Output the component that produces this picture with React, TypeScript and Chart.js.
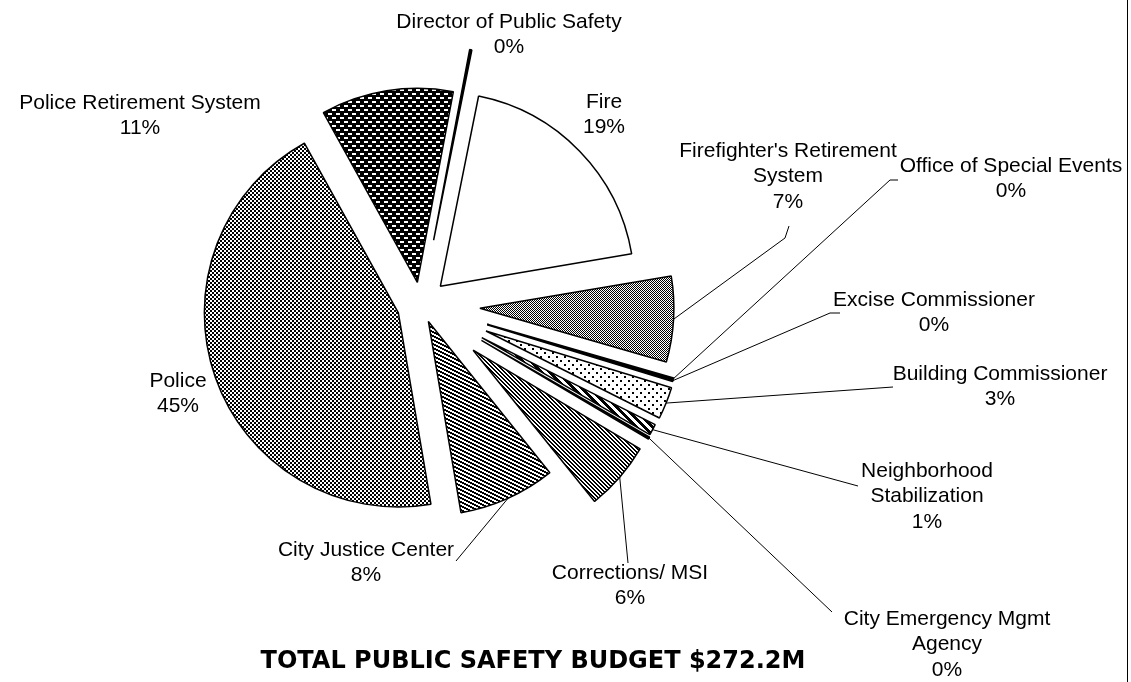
import React, { useEffect, useRef } from "react";
import { Chart, registerables } from "chart.js";

Chart.register(...registerables);

// ---------- data ----------
const categories = [
  "Director of Public Safety",
  "Fire",
  "Firefighter's Retirement System",
  "Office of Special Events",
  "Excise Commissioner",
  "Building Commissioner",
  "Neighborhood Stabilization",
  "City Emergency Mgmt Agency",
  "Corrections/ MSI",
  "City Justice Center",
  "Police",
  "Police Retirement System",
];

// budget in $ millions
const budgetMillions = [0.5, 52.2, 19.4, 0.3, 0.4, 7.3, 2.5, 0.5, 15.6, 22.0, 121.5, 30.0];

const labelLines = [
  ["Director of Public Safety"],
  ["Fire"],
  ["Firefighter's Retirement", "System"],
  ["Office of Special Events"],
  ["Excise Commissioner"],
  ["Building Commissioner"],
  ["Neighborhood", "Stabilization"],
  ["City Emergency Mgmt", "Agency"],
  ["Corrections/ MSI"],
  ["City Justice Center"],
  ["Police"],
  ["Police Retirement System"],
];

const chartTitle = "TOTAL PUBLIC SAFETY BUDGET $272.2M";

// ---------- layout / style ----------
const W = 1131;
const H = 682;
const explodePx = [66, 27, 59, 69, 69, 70, 69, 70, 69, 18, 24, 23];
// label anchor: [centerX, firstLineY]
const labelPos: [number, number][] = [
  [509, 22],
  [604, 102],
  [788, 151],
  [1011, 166],
  [934, 300],
  [1000, 374],
  [927, 471],
  [947, 619],
  [630, 573],
  [366, 550],
  [178, 381],
  [140, 103],
];
// leader line points (from slice outward toward the label); null = no leader
const leaderPts: ([number, number][] | null)[] = [
  null,
  null,
  [[785, 238], [789, 226]],
  [[890, 180], [898, 180]],
  [[830, 313], [840, 313]],
  [[893, 387]],
  [[858, 486]],
  [[832, 612]],
  [[628, 563]],
  [[456, 561]],
  null,
  null,
];
const LINE_H = 25.5;

function mkPattern(w: number, h: number, bg: string, fg: string, fn: (x: number, y: number) => boolean) {
  const c = document.createElement("canvas");
  c.width = w;
  c.height = h;
  const g = c.getContext("2d")!;
  g.fillStyle = bg;
  g.fillRect(0, 0, w, h);
  g.fillStyle = fg;
  for (let y = 0; y < h; y++) for (let x = 0; x < w; x++) if (fn(x, y)) g.fillRect(x, y, 1, 1);
  return g.createPattern(c, "repeat")!;
}

function buildFills() {
  const fine = mkPattern(2, 2, "#fff", "#000", (x, y) => (x + y) % 2 === 0);
  const dots = mkPattern(8, 8, "#fff", "#000", (x, y) => (x < 2 && y < 2) || (x >= 4 && x < 6 && y >= 4 && y < 6));
  const wideDiag = mkPattern(8, 8, "#fff", "#000", (x, y) => (((x - y) % 8) + 8) % 8 < 4);
  const diag45 = mkPattern(4, 4, "#fff", "#000", (x, y) => (((x - y) % 4) + 4) % 4 < 2);
  const diagFlat = mkPattern(8, 4, "#fff", "#000", (x, y) => (((x - 2 * y) % 8) + 8) % 8 < 4);
  const checker = mkPattern(4, 4, "#fff", "#000", (x, y) => (Math.floor(x / 2) + Math.floor(y / 2)) % 2 === 0);
  const dashes = mkPattern(8, 8, "#000", "#fff", (x, y) => (y >= 1 && y < 3 && x < 4) || (y >= 5 && y < 7 && x >= 4));
  return ["#000", "#fff", fine, "#000", "#000", dots, wideDiag, "#000", diag45, diagFlat, checker, dashes];
}

export default function App() {
  const ref = useRef<HTMLCanvasElement | null>(null);

  useEffect(() => {
    if (!ref.current) return;
    const total = budgetMillions.reduce((a, b) => a + b, 0);
    const R = 194;
    const bw = 1.5;
    const side = 2 * R + bw;
    const cx = 421;
    const cy = 305;
    const left = cx - side / 2;
    const top = cy - side / 2;

    const explodePlugin = {
      id: "explode",
      afterDatasetsUpdate(chart: any) {
        const meta = chart.getDatasetMeta(0);
        meta.data.forEach((el: any, i: number) => {
          const mid = (el.startAngle + el.endAngle) / 2;
          el.x = el.x + Math.cos(mid) * explodePx[i];
          el.y = el.y + Math.sin(mid) * explodePx[i];
        });
      },
    };

    const labelPlugin = {
      id: "labels",
      afterDraw(chart: any) {
        const ctx = chart.ctx as CanvasRenderingContext2D;
        const meta = chart.getDatasetMeta(0);
        ctx.save();
        // leader lines
        ctx.strokeStyle = "#000";
        ctx.lineWidth = 1;
        meta.data.forEach((el: any, i: number) => {
          const pts = leaderPts[i];
          if (!pts) return;
          const mid = (el.startAngle + el.endAngle) / 2;
          const ax = el.x + Math.cos(mid) * el.outerRadius;
          const ay = el.y + Math.sin(mid) * el.outerRadius;
          ctx.beginPath();
          ctx.moveTo(ax, ay);
          pts.forEach((p) => ctx.lineTo(p[0], p[1]));
          ctx.stroke();
        });
        // labels
        ctx.fillStyle = "#000";
        ctx.font = '21px "Liberation Sans", Arial, sans-serif';
        ctx.textAlign = "center";
        ctx.textBaseline = "middle";
        labelLines.forEach((lines, i) => {
          const pct = Math.round((budgetMillions[i] / total) * 100) + "%";
          const all = [...lines, pct];
          const [x, y] = labelPos[i];
          all.forEach((t, k) => ctx.fillText(t, x, y + k * LINE_H));
        });
        // title
        ctx.font = 'bold 24px "DejaVu Sans", Verdana, sans-serif';
        ctx.fillText(chartTitle, 533, 662);
        // right frame line
        ctx.fillRect(W - 4, 0, 1, H);
        ctx.restore();
      },
    };

    const chart = new Chart(ref.current, {
      type: "pie",
      data: {
        labels: categories,
        datasets: [
          {
            data: budgetMillions,
            backgroundColor: buildFills() as any,
            borderColor: "#000",
            borderWidth: bw,
            hoverBorderWidth: bw,
            hoverOffset: 0,
            offset: 0,
          } as any,
        ],
      },
      options: {
        responsive: false,
        animation: false,
        events: [],
        rotation: 10.7,
        layout: {
          padding: { left, top, right: W - left - side, bottom: H - top - side },
        },
        plugins: {
          legend: { display: false },
          tooltip: { enabled: false },
          title: { display: false },
        },
      } as any,
      plugins: [explodePlugin, labelPlugin],
    });
    return () => chart.destroy();
  }, []);

  return (
    <div style={{ position: "absolute", left: 0, top: 0, width: W, height: H, background: "#fff" }}>
      <canvas ref={ref} width={W} height={H} style={{ display: "block", width: W, height: H }} />
    </div>
  );
}
